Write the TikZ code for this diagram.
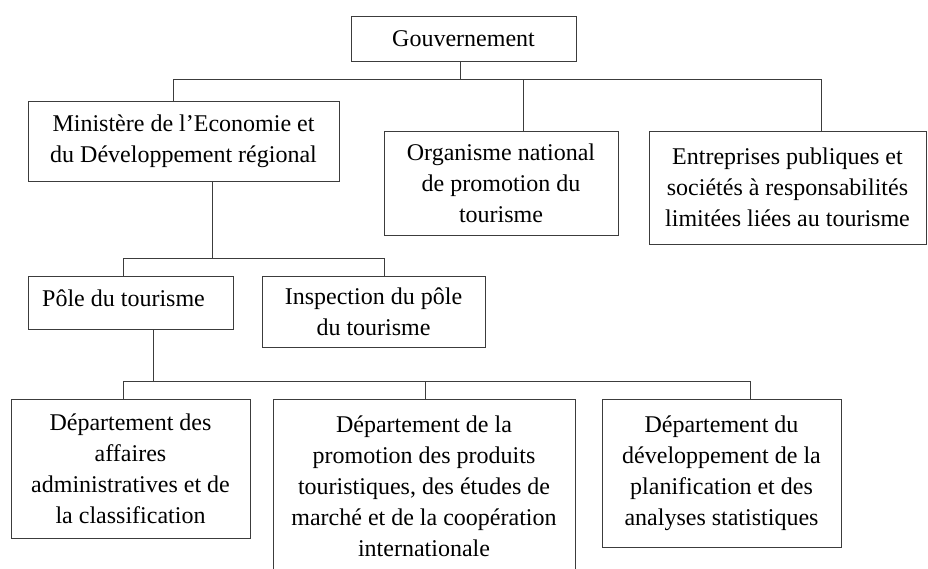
\documentclass[tikz,border=0pt]{standalone}
\usepackage{fontspec}
\setmainfont{Liberation Serif}
\usepackage{tikz}
\definecolor{orgline}{RGB}{60,60,60}
\tikzset{
  orgbox/.style={draw=orgline,line width=1pt,inner sep=0pt,align=center,
    font=\fontsize{24}{31}\selectfont},
  orgwire/.style={draw=orgline,line width=1pt}
}

\begin{document}
\begin{tikzpicture}[x=1pt,y=-1pt]
\useasboundingbox (0,0) rectangle (928,568);
% top level
\node [orgbox,minimum width=225pt,minimum height=45pt] (gouv) at (463.5,38.5) {Gouvernement};
\node [orgbox,minimum width=311pt,minimum height=80pt] (mini) at (183.5,141)
{Ministère de l’Economie et\\du Développement régional};
\node [orgbox,minimum width=234pt,minimum height=104pt] (orga) at (501,183)
{Organisme national\\de promotion du\\tourisme};
\node [orgbox,minimum width=277pt,minimum height=113pt] (entr) at (787.5,187.5)
{Entreprises publiques et\\sociétés à responsabilités\\limitées liées au tourisme};
% second level
\node [orgbox,minimum width=205pt,minimum height=53pt,text depth=8pt] (pole) at (130.5,302.5)
{Pôle du tourisme\hspace*{14pt}};
\node [orgbox,minimum width=223pt,minimum height=71pt] (insp) at (373.5,311.5)
{Inspection du pôle\\du tourisme};
% departements
\node [orgbox,minimum width=239pt,minimum height=139pt] (dep1) at (130.5,468.5)
{Département des\\affaires\\administratives et de\\la classification};
\node [orgbox,minimum width=302pt,minimum height=174pt] (dep2) at (424,486)
{Département de la\\promotion des produits\\touristiques, des études de\\marché et de la coopération\\internationale};
\node [orgbox,minimum width=239pt,minimum height=148pt] (dep3) at (721.5,473)
{Département du\\développement de la\\planification et des\\analyses statistiques};

% bus under Gouvernement
\coordinate (bus1w) at (173,79);
\coordinate (bus1g) at (460,79);
\coordinate (bus1o) at (523,79);
\coordinate (bus1e) at (821,79);
\draw [orgwire] (bus1w) -- (bus1e);
\draw [orgwire] (bus1g) -- (bus1g |- gouv.south);
\draw [orgwire] (bus1w) -- (bus1w |- mini.north);
\draw [orgwire] (bus1o) -- (bus1o |- orga.north);
\draw [orgwire] (bus1e) -- (bus1e |- entr.north);

% bus under Ministere
\coordinate (bus2w) at (123,258);
\coordinate (bus2m) at (212,258);
\coordinate (bus2e) at (384,258);
\draw [orgwire] (bus2w) -- (bus2e);
\draw [orgwire] (bus2m) -- (bus2m |- mini.south);
\draw [orgwire] (bus2w) -- (bus2w |- pole.north);
\draw [orgwire] (bus2e) -- (bus2e |- insp.north);

% bus under Pole
\coordinate (bus3w) at (123,381);
\coordinate (bus3p) at (153,381);
\coordinate (bus3m) at (425,381);
\coordinate (bus3e) at (750,381);
\draw [orgwire] (bus3w) -- (bus3e);
\draw [orgwire] (bus3p) -- (bus3p |- pole.south);
\draw [orgwire] (bus3w) -- (bus3w |- dep1.north);
\draw [orgwire] (bus3m) -- (bus3m |- dep2.north);
\draw [orgwire] (bus3e) -- (bus3e |- dep3.north);
\end{tikzpicture}
\end{document}
